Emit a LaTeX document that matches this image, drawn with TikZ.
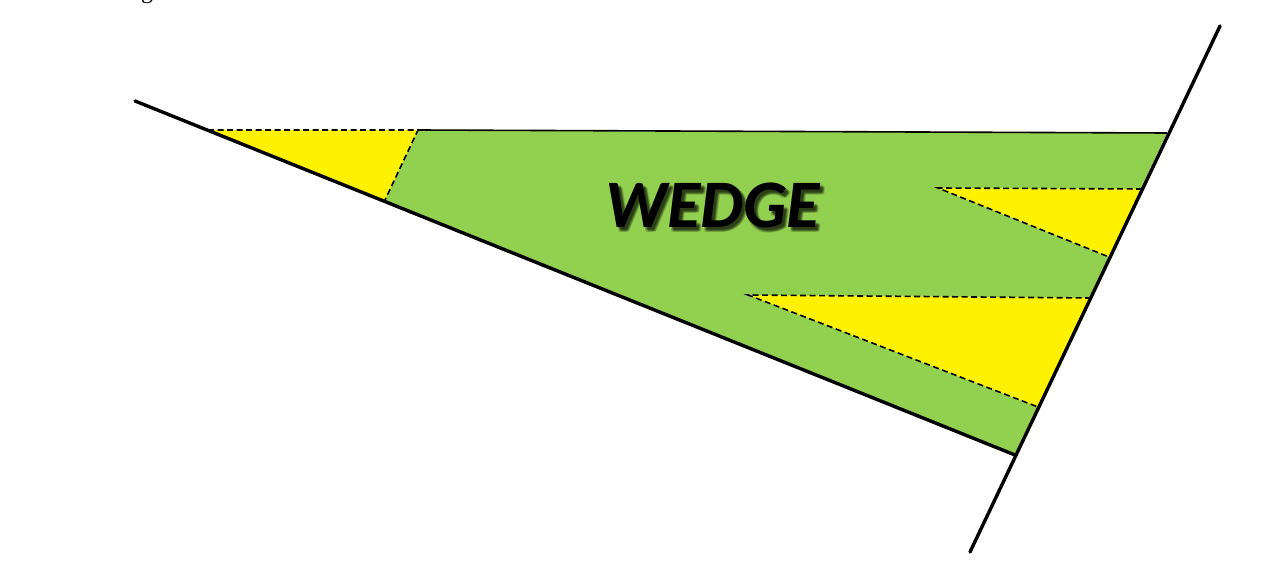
\documentclass[tikz,border=0pt]{standalone}
\usepackage{fontspec}
\setmainfont{Liberation Serif}
\newfontfamily\wedgefont{Carlito}
\begin{document}
\begin{tikzpicture}[x=1pt,y=-1pt,
  thickline/.style={line width=3.4pt,line cap=round},
  dashline/.style={line width=1.6pt,dash pattern=on 6pt off 3.5pt},
  topline/.style={line width=1.6pt},
  greenfill/.style={fill=wgreen},
  yellowfill/.style={fill=yellow},
  wedgetext/.style={font=\wedgefont\bfseries\itshape\fontsize{68}{72}\selectfont},
  shadowtext/.style={wedgetext,text=black,opacity=0.12}]
\definecolor{wgreen}{HTML}{92D050}
\useasboundingbox (0,0) rectangle (1287,572);
% cut-off caption glyph
\node[anchor=base west,inner sep=0pt,font=\fontsize{24}{28}\selectfont] (cap) at (141,-1.5) {g};
% key points
\coordinate (L1) at (135,101);
\coordinate (L2) at (1015,455);
\coordinate (R1) at (1220,26);
\coordinate (R2) at (970,552);
\coordinate (A) at (208,130);
\coordinate (B) at (1167,133);
\coordinate (T1a) at (418,130);
\coordinate (T1b) at (385,200);
\coordinate (T2a) at (938,188);
\coordinate (T2b) at (1142,189);
\coordinate (T2c) at (1109,257);
\coordinate (T3a) at (748,295);
\coordinate (T3b) at (1091,298);
\coordinate (T3c) at (1038,407);
% green wedge
\fill[greenfill] (A) -- (B) -- (L2) -- cycle;
% yellow triangles
\fill[yellowfill] (A) -- (T1a) -- (T1b) -- cycle;
\fill[yellowfill] (T2a) -- (T2b) -- (T2c) -- cycle;
\fill[yellowfill] (T3a) -- (T3b) -- (T3c) -- cycle;
% dashed edges
\draw[dashline] (A) -- (T1a) -- (T1b);
\draw[dashline] (T2b) -- (T2a) -- (T2c);
\draw[dashline] (T3b) -- (T3a) -- (T3c);
% top solid edge
\draw[topline] (T1a) -- (B);
% thick lines
\draw[thickline] (L1) -- (L2);
\draw[thickline] (R1) -- (R2);
% label with soft shadow
\foreach \dx/\dy in {2/3,4/3,3/2,3/4,4/5,2/5,5/4,3/3,4/4}
  \node[shadowtext] at (713+\dx,205+\dy) {WEDGE};
\node[wedgetext] (label) at (713,205) {WEDGE};
\end{tikzpicture}
\end{document}
